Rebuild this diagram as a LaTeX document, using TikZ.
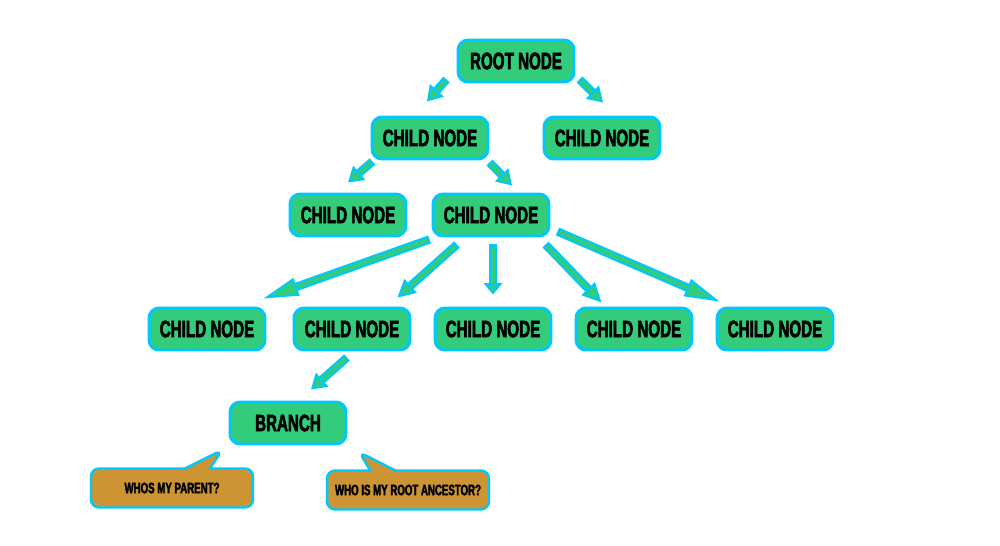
\documentclass[tikz,border=0pt]{standalone}
\usepackage{fontspec}
\setmainfont{Liberation Sans}[FakeStretch=0.64, FakeBold=2.4]
\usepackage{tikz}
\usetikzlibrary{calc, arrows.meta, shapes.callouts}

\definecolor{leafgreen}{HTML}{33CC7A}
\definecolor{edgecyan}{HTML}{00C8FF}
\definecolor{askbrown}{HTML}{CC9433}

\begin{document}
\begin{tikzpicture}[x=0.02cm, y=-0.02cm,
	treenode/.style={draw=edgecyan, line width=1.7pt, fill=leafgreen, rounded corners=0.2cm,
		minimum width=2.32cm, minimum height=0.84cm, inner sep=0pt,
		font=\fontsize{13.5}{15}\selectfont\bfseries},
	asknode/.style={rectangle callout, draw=edgecyan, line width=1.4pt, fill=askbrown,
		rounded corners=0.16cm, minimum width=3.24cm, minimum height=0.78cm, inner sep=0pt,
		callout pointer width=0.5cm, font=\fontsize{8.6}{10}\selectfont\bfseries},
	fatarrow/.style={draw=edgecyan, line width=4.8pt,
		-{Triangle[length=#1, width=10.5pt, fill=leafgreen, line width=1.1pt]},
		postaction={draw=leafgreen, line width=2.4pt, -, shorten <=1.2pt, shorten >=#1}},
	fatarrow/.default=8.5pt]
	\path[fill=white] (0,0) rectangle (1000,545);

	\node[treenode] (root) at (516,61) {ROOT NODE};

	\node[treenode] (c11) at (430,138) {CHILD NODE};
	\node[treenode] (c12) at (602,138) {CHILD NODE};

	\node[treenode] (c21) at (348,215) {CHILD NODE};
	\node[treenode] (c22) at (491,215) {CHILD NODE};

	\node[treenode] (c31) at (207,329) {CHILD NODE};
	\node[treenode] (c32) at (352,329) {CHILD NODE};
	\node[treenode] (c33) at (493,329) {CHILD NODE};
	\node[treenode] (c34) at (634,329) {CHILD NODE};
	\node[treenode] (c35) at (775,329) {CHILD NODE};

	\node[treenode] (branch) at (288,423) {BRANCH};

	\node[asknode, callout absolute pointer={(222,450)}] (ask1) at (172,488) {WHOS MY PARENT?};
	\node[asknode, callout absolute pointer={(359,452)}] (ask2) at (408,490) {WHO IS MY ROOT ANCESTOR?};

	% arrows
	\draw[fatarrow] ($(root.south west)+(-10,-4)$) -- ($(c11.north)+(-3,-14)$);
	\draw[fatarrow] ($(root.south east)+(4,-4)$) -- ($(c12.north)+(1,-13)$);
	\draw[fatarrow] ($(c11.south west)+(2,1)$) -- ($(c21.north)+(0,-10)$);
	\draw[fatarrow] ($(c11.south east)+(0,2)$) -- ($(c22.north)+(21,-7)$);

	\draw[fatarrow=20pt] ($(c22.south west)+(-2,2)$) -- ($(c31.north east)+(-3,-8)$);
	\draw[fatarrow=10pt] ($(c22.south)+(-34,7)$) -- ($(c32.north east)+(-14,-9)$);
	\draw[fatarrow=6.5pt] ($(c22.south)+(2,7)$) -- ($(c33.north)+(0,-12)$);
	\draw[fatarrow=11pt] ($(c22.south east)+(-5,7)$) -- ($(c34.north west)+(27,-4)$);
	\draw[fatarrow=20pt] ($(c22.south east)+(7,-6)$) -- ($(c35.north west)+(4,-5)$);

	\draw[fatarrow] ($(c32.south)+(-5,6)$) -- ($(branch.north)+(23,-11)$);
\end{tikzpicture}
\end{document}
